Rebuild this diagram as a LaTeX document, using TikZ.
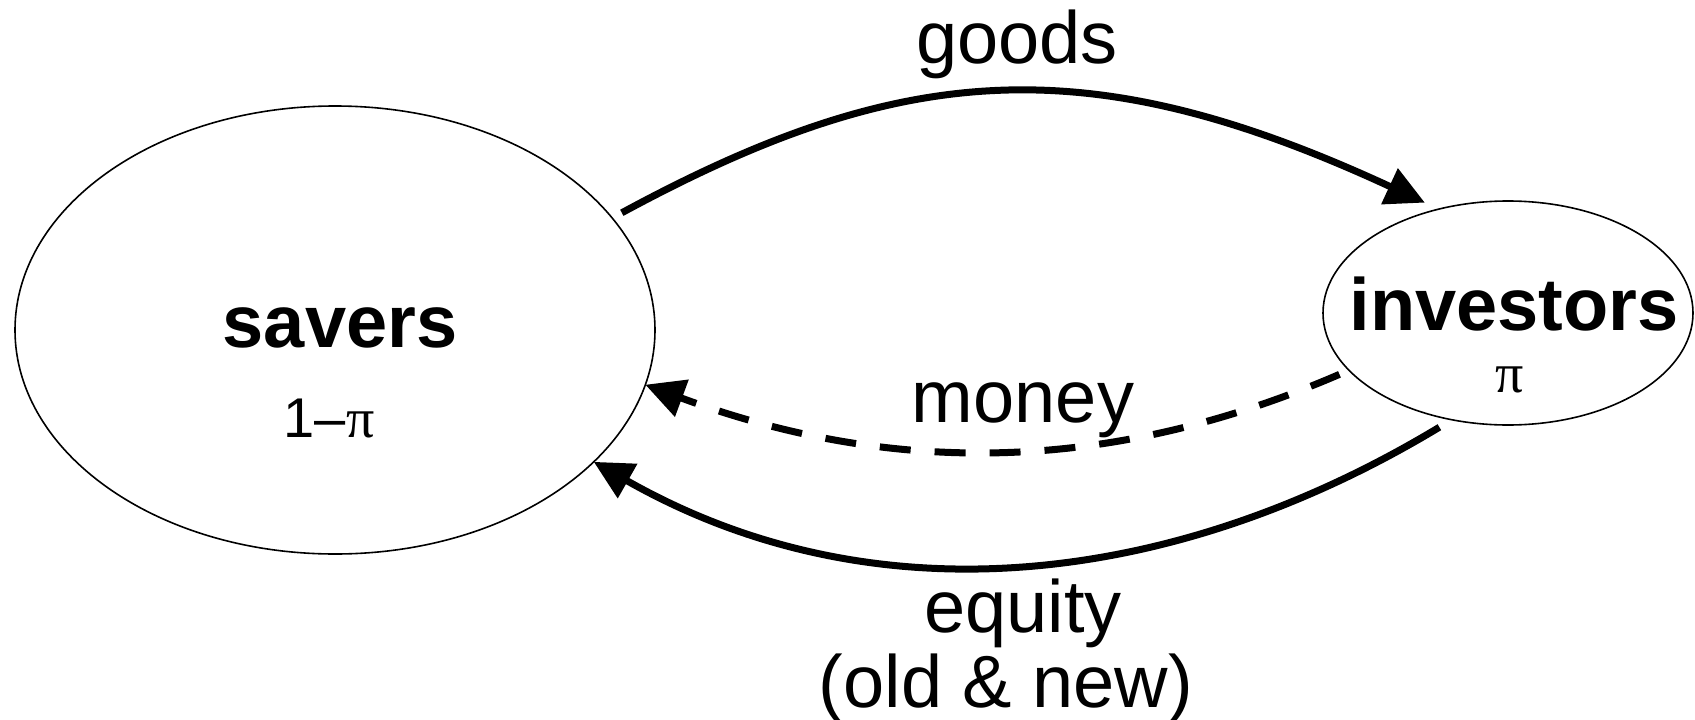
\documentclass[tikz,border=0pt]{standalone}
\usepackage{fontspec}
\setmainfont{Liberation Sans}
\newfontfamily\pifont{Liberation Serif}
\usetikzlibrary{arrows.meta,shapes.geometric}
\begin{document}
\begin{tikzpicture}[x=1pt,y=-1pt,
  blob/.style={ellipse,draw,line width=1.6pt,inner sep=0pt},
  lbl/.style={inner sep=0pt,anchor=base,font=\fontsize{74}{80}\selectfont},
  boldlbl/.style={lbl,font=\fontsize{74}{80}\selectfont\bfseries},
  sublbl/.style={inner sep=0pt,anchor=base,font=\fontsize{56}{60}\selectfont},
  flow/.style={line width=7pt,-{Triangle[length=39pt,width=38pt]}},
  dashflow/.style={flow,dash pattern=on 31pt off 24pt}]
\useasboundingbox (0,0) rectangle (1695,720);

\node[blob,minimum width=640pt,minimum height=448pt,outer sep=0pt] (sav) at (335,330) {};
\node[blob,minimum width=370pt,minimum height=224pt,outer sep=10pt] (inv) at (1508,313) {};

\node[boldlbl] (savt) at (340,347) {savers};
\node[sublbl] (savp) at (329,437) {1–{\pifont π}};
\node[boldlbl] (invt) at (1514,330) {investors};
\node[sublbl] (invp) at (1510,392) {\pifont π};

\draw[flow,shorten <=11pt] (sav.22.5) .. controls +(290,-157) and +(-337,-156) .. (inv.127.3);
\draw[dashflow] (inv.200.6) .. controls +(-220,95) and +(257,95) .. (sav.-10);
\draw[flow] (inv.239.4) .. controls +(-260,157) and +(285,162) .. (sav.-27.1);

\node[lbl] (goods) at (1017,63) {goods};
\node[lbl] (money) at (1023,422) {money};
\node[lbl] (eq1) at (1023,632) {equity};
\node[lbl] (eq2) at (1006,707) {(old \& new)};
\end{tikzpicture}
\end{document}
